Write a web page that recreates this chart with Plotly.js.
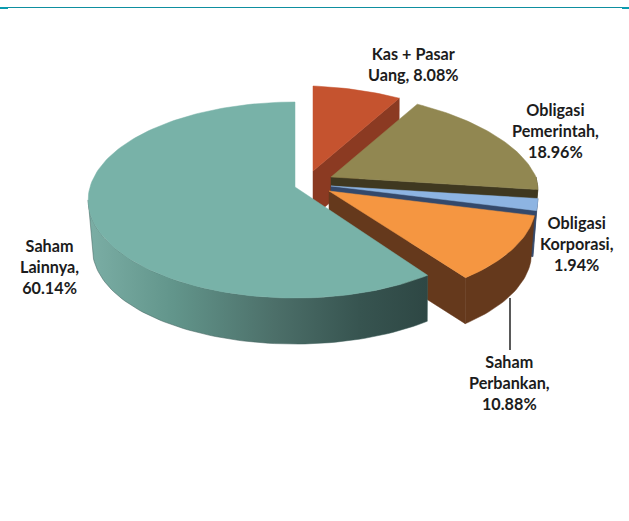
<!DOCTYPE html>
<html><head><meta charset="utf-8">
<script src="https://cdn.plot.ly/plotly-3.0.1.min.js"></script>
<style>html,body{margin:0;padding:0;background:#fff}#c{width:629px;height:521px}</style>
</head><body><div id="c"></div>
<script>
// Data
const categories = ["Kas + Pasar Uang","Obligasi Pemerintah","Obligasi Korporasi","Saham Perbankan","Saham Lainnya"];
const values = [8.08,18.96,1.94,10.88,60.14];
const labelLines = [["Kas + Pasar","Uang, 8.08%"],["Obligasi","Pemerintah,","18.96%"],["Obligasi","Korporasi,","1.94%"],["Saham","Perbankan,","10.88%"],["Saham","Lainnya,","60.14%"]];

// Style / geometry (plot units = pixels of the hidden axes)
const topColors = ["#C5532F","#918751","#8DB4E2","#F59641","#78B2A8"];
const sideColors = ["#8B3A22","#3F3820","#34496B","#65391C","#3F5F5A"];
const apexX = [313,331,331,329,295];
const apexY = [171,177,186,191,187];
const startShift = [0,0,0,0,1.3];
const RX = 205, RY = 96.3, K = 0.133, DEPTH = 46, BOTTOM_SHRINK = 0.02, QUAD_FLATTEN = 0.04;
const SILHOUETTE_DEG = 262.4;
const labelX = [413,555,577,509,49];
const labelY = [64,130,243,382,266];

function pt(i, deg, bottom){
  const t = deg*Math.PI/180, u = Math.sin(t), v = Math.cos(t), w = 1+K*v;
  const s = bottom ? 1-BOTTOM_SHRINK*u*u*u*u : 1;
  const r = (deg>0 && deg<90) ? 1-QUAD_FLATTEN*Math.sin(2*t) : 1;
  return [apexX[i]+s*r*RX*u/w, apexY[i]-r*RY*v/w+(bottom?DEPTH:0)];
}
function arc(i,a0,a1,bottom){
  const n = Math.max(2,Math.ceil(Math.abs(a1-a0)/1.5)), out=[];
  for(let k=0;k<=n;k++) out.push(pt(i,a0+(a1-a0)*k/n,bottom));
  return out;
}
function poly(name,points,color,extra){
  const closed = points.concat([points[0]]);
  return Object.assign({type:"scatter",mode:"lines",name,x:closed.map(p=>p[0]),y:closed.map(p=>p[1]),
    fill:"toself",fillcolor:color,line:{width:0.5,color:color},hoverinfo:"name",showlegend:false},extra||{});
}
const total = values.reduce((a,b)=>a+b,0);
let cum=0;
const spans = values.map((v,i)=>{const a=cum/total*360+startShift[i];cum+=v;return [a,cum/total*360];});

const traces=[];
spans.forEach(([a0,a1],i)=>{
  const name=categories[i];
  const apexTop=[apexX[i],apexY[i]], apexBot=[apexX[i],apexY[i]+DEPTH];
  if(i<4){ // cut face on the clockwise end of the wedge
    traces.push(poly(name,[apexTop,pt(i,a1,false),pt(i,a1,true),apexBot],sideColors[i]));
  }
  // outer rim
  const lo=Math.max(a0,90), hi=Math.min(a1,SILHOUETTE_DEG);
  if(hi>lo){
    const rim=arc(i,lo,hi,false).concat(arc(i,hi,lo,true));
    if(i===4){
      traces.push(poly(name,rim,sideColors[i],{fillgradient:{type:"horizontal",colorscale:[[0,"#7BAEA5"],[0.25,"#62958B"],[0.55,"#4C6F69"],[0.8,"#375450"],[1,"#2E4744"]]}}));
    } else traces.push(poly(name,rim,sideColors[i]));
  }
  traces.push(poly(name,[apexTop].concat(arc(i,a0,a1,false)),topColors[i]));
});
// Leader line for Saham Perbankan
traces.push({type:"scatter",mode:"lines",x:[510,510],y:[298,350],line:{color:"#000",width:1.3},hoverinfo:"skip",showlegend:false});

const annotations = labelLines.map((lines,i)=>({
  x:labelX[i],y:labelY[i],xref:"x",yref:"y",text:lines.join("<br>"),showarrow:false,align:"center",
  xanchor:"center",yanchor:"middle",font:{family:"Lato, sans-serif",size:16.2,color:"#1c1c1c",weight:700}
}));
const edge="#0E8FA0";
const shapes=[
 {type:"rect",xref:"x",yref:"y",x0:0,x1:629,y0:7,y1:8,fillcolor:edge,line:{width:0}},
 {type:"rect",xref:"x",yref:"y",x0:0,x1:8,y0:7,y1:9,fillcolor:"#0A9BAF",line:{width:0}},
 {type:"rect",xref:"x",yref:"y",x0:622,x1:629,y0:7,y1:9,fillcolor:"#0A9BAF",line:{width:0}}
];
Plotly.newPlot("c",traces,{
  width:629,height:521,margin:{l:0,r:0,t:0,b:0},paper_bgcolor:"#fff",plot_bgcolor:"#fff",showlegend:false,
  xaxis:{range:[0,629],visible:false,fixedrange:true},
  yaxis:{range:[521,0],visible:false,fixedrange:true},
  annotations,shapes
},{displayModeBar:false,staticPlot:true});
</script></body></html>
